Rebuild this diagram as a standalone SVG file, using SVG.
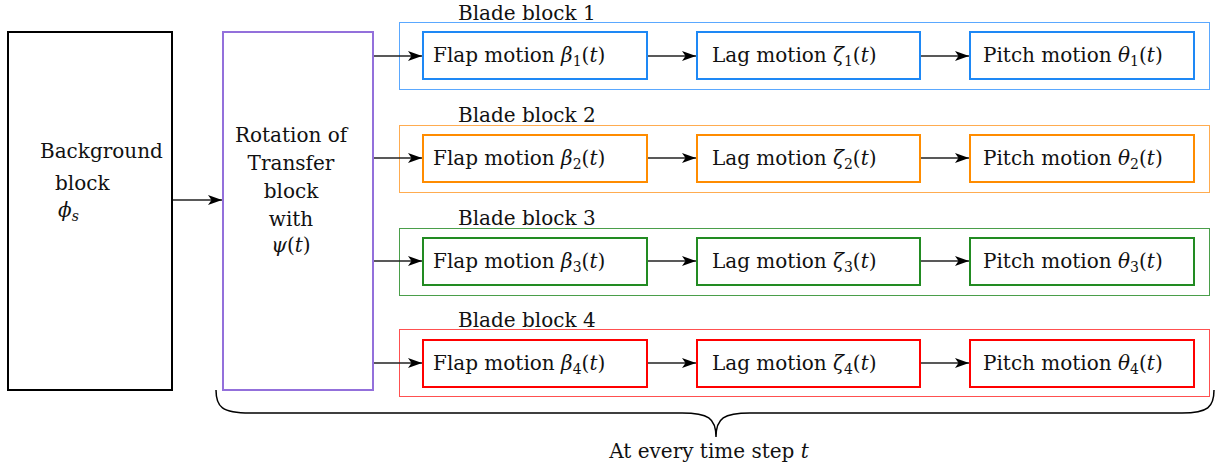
<svg xmlns="http://www.w3.org/2000/svg" width="1232" height="470" viewBox="0 0 1232 470">
  <style>
    text { font-family: "DejaVu Serif", "Liberation Serif", serif; font-size: 20px; fill: #111; }
    .m { font-style: italic; }
    .sub { font-size: 14px; }
    .edge { stroke: #222; stroke-width: 1.3; fill: none; marker-end: url(#arr); }
    .inner { fill: #fff; stroke-width: 2; }
    .outer { fill: none; stroke-width: 1; }
    .blue .inner { stroke: #1e88f5; }
    .blue .outer { stroke: #5aa8ff; }
    .orange .inner { stroke: #ff8c00; }
    .orange .outer { stroke: #ffac50; }
    .green .inner { stroke: #228b22; }
    .green .outer { stroke: #4a9e4a; }
    .red .inner { stroke: #ff0000; }
    .red .outer { stroke: #ff5050; }
  </style>
  <defs>
    <marker id="arr" viewBox="0 0 14 10" refX="14" refY="5" markerWidth="14" markerHeight="10" markerUnits="userSpaceOnUse" orient="auto">
      <path d="M0,0 L14,5 L0,10 L3.5,5 Z" fill="#000"/>
    </marker>
  </defs>

  <rect width="1232" height="470" fill="#fff"/>

  <!-- source block -->
  <g id="background">
    <rect x="8" y="32" width="164" height="358" fill="#fff" stroke="#000" stroke-width="2"/>
    <text x="40" y="158">Background</text>
    <text x="55" y="190">block</text>
    <text x="58" y="217"><tspan class="m">ϕ</tspan><tspan class="m sub" dy="4">s</tspan></text>
  </g>

  <!-- rotation block -->
  <g id="rotation">
    <rect x="223" y="32" width="150" height="358" fill="#fff" stroke="#9370db" stroke-width="2"/>
    <text x="291" y="142" text-anchor="middle">Rotation of</text>
    <text x="291" y="170" text-anchor="middle">Transfer</text>
    <text x="291" y="198" text-anchor="middle">block</text>
    <text x="291" y="226" text-anchor="middle">with</text>
    <text x="291" y="252" text-anchor="middle"><tspan class="m">ψ</tspan>(<tspan class="m">t</tspan>)</text>
  </g>

  <!-- blade block 1 -->
  <g id="blade1" class="blue">
    <rect class="outer" x="399.5" y="22.5" width="810" height="67"/>
    <text x="458" y="20">Blade block 1</text>
    <g id="flap1"><rect class="inner" x="423" y="32" width="224" height="47"/>
      <text x="433" y="62">Flap motion <tspan class="m">β</tspan><tspan class="sub" dy="4">1</tspan><tspan dy="-4">(</tspan><tspan class="m">t</tspan>)</text></g>
    <g id="lag1"><rect class="inner" x="697" y="32" width="223" height="47"/>
      <text x="712" y="62">Lag motion <tspan class="m">ζ</tspan><tspan class="sub" dy="4">1</tspan><tspan dy="-4">(</tspan><tspan class="m">t</tspan>)</text></g>
    <g id="pitch1"><rect class="inner" x="970" y="32" width="224" height="47"/>
      <text x="983" y="62">Pitch motion <tspan class="m">θ</tspan><tspan class="sub" dy="4">1</tspan><tspan dy="-4">(</tspan><tspan class="m">t</tspan>)</text></g>
  </g>

  <!-- blade block 2 -->
  <g id="blade2" class="orange">
    <rect class="outer" x="399.5" y="125.5" width="810" height="67"/>
    <text x="458" y="122">Blade block 2</text>
    <g id="flap2"><rect class="inner" x="423" y="135" width="224" height="47"/>
      <text x="433" y="165">Flap motion <tspan class="m">β</tspan><tspan class="sub" dy="4">2</tspan><tspan dy="-4">(</tspan><tspan class="m">t</tspan>)</text></g>
    <g id="lag2"><rect class="inner" x="697" y="135" width="223" height="47"/>
      <text x="712" y="165">Lag motion <tspan class="m">ζ</tspan><tspan class="sub" dy="4">2</tspan><tspan dy="-4">(</tspan><tspan class="m">t</tspan>)</text></g>
    <g id="pitch2"><rect class="inner" x="970" y="135" width="224" height="47"/>
      <text x="983" y="165">Pitch motion <tspan class="m">θ</tspan><tspan class="sub" dy="4">2</tspan><tspan dy="-4">(</tspan><tspan class="m">t</tspan>)</text></g>
  </g>

  <!-- blade block 3 -->
  <g id="blade3" class="green">
    <rect class="outer" x="399.5" y="228.5" width="810" height="67"/>
    <text x="458" y="225">Blade block 3</text>
    <g id="flap3"><rect class="inner" x="423" y="238" width="224" height="47"/>
      <text x="433" y="268">Flap motion <tspan class="m">β</tspan><tspan class="sub" dy="4">3</tspan><tspan dy="-4">(</tspan><tspan class="m">t</tspan>)</text></g>
    <g id="lag3"><rect class="inner" x="697" y="238" width="223" height="47"/>
      <text x="712" y="268">Lag motion <tspan class="m">ζ</tspan><tspan class="sub" dy="4">3</tspan><tspan dy="-4">(</tspan><tspan class="m">t</tspan>)</text></g>
    <g id="pitch3"><rect class="inner" x="970" y="238" width="224" height="47"/>
      <text x="983" y="268">Pitch motion <tspan class="m">θ</tspan><tspan class="sub" dy="4">3</tspan><tspan dy="-4">(</tspan><tspan class="m">t</tspan>)</text></g>
  </g>

  <!-- blade block 4 -->
  <g id="blade4" class="red">
    <rect class="outer" x="399.5" y="329.5" width="810" height="67"/>
    <text x="458" y="327">Blade block 4</text>
    <g id="flap4"><rect class="inner" x="423" y="340" width="224" height="47"/>
      <text x="433" y="370">Flap motion <tspan class="m">β</tspan><tspan class="sub" dy="4">4</tspan><tspan dy="-4">(</tspan><tspan class="m">t</tspan>)</text></g>
    <g id="lag4"><rect class="inner" x="697" y="340" width="223" height="47"/>
      <text x="712" y="370">Lag motion <tspan class="m">ζ</tspan><tspan class="sub" dy="4">4</tspan><tspan dy="-4">(</tspan><tspan class="m">t</tspan>)</text></g>
    <g id="pitch4"><rect class="inner" x="970" y="340" width="224" height="47"/>
      <text x="983" y="370">Pitch motion <tspan class="m">θ</tspan><tspan class="sub" dy="4">4</tspan><tspan dy="-4">(</tspan><tspan class="m">t</tspan>)</text></g>
  </g>

  <!-- connectors -->
  <g id="connectors">
    <path class="edge" d="M173,200 H222"/>
    <path class="edge" d="M374,56 H422"/>
    <path class="edge" d="M374,158 H422"/>
    <path class="edge" d="M374,261 H422"/>
    <path class="edge" d="M374,363 H422"/>
    <path class="edge" d="M648,56 H696"/>
    <path class="edge" d="M921,56 H969"/>
    <path class="edge" d="M648,158 H696"/>
    <path class="edge" d="M921,158 H969"/>
    <path class="edge" d="M648,261 H696"/>
    <path class="edge" d="M921,261 H969"/>
    <path class="edge" d="M648,363 H696"/>
    <path class="edge" d="M921,363 H969"/>
  </g>

  <!-- brace spanning the per-step blocks -->
  <g id="brace">
    <path d="M216,390 C216,407 222,413 250,413 L682,413 C708,413 716,418 716,437 C716,418 724,413 750,413 L1182,413 C1208,413 1214,407 1214,390" fill="none" stroke="#000" stroke-width="1.5"/>
    <text x="709" y="458" text-anchor="middle">At every time step <tspan class="m">t</tspan></text>
  </g>
</svg>
